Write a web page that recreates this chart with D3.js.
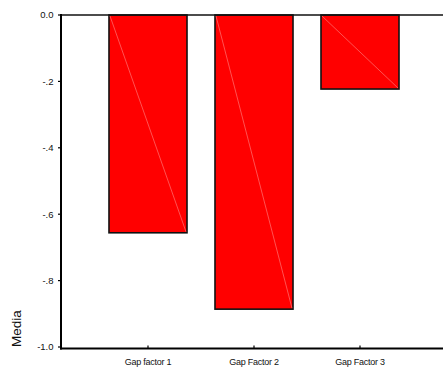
<!DOCTYPE html>
<html>
<head>
<meta charset="utf-8">
<script src="https://cdn.jsdelivr.net/npm/d3@7"></script>
<style>
  html, body { margin: 0; padding: 0; background: #fff; }
  svg { display: block; font-family: "Liberation Sans", Arial, sans-serif; }
</style>
</head>
<body>
<svg id="chart" width="443" height="367"></svg>
<script>
// Mean gap per factor
const categories = ["Gap factor 1", "Gap Factor 2", "Gap Factor 3"];
const means = [-0.656, -0.886, -0.223];
const yTicks = [0, -0.2, -0.4, -0.6, -0.8, -1.0];
const yTickLabels = ["0.0", "-.2", "-.4", "-.6", "-.8", "-1.0"];
const yTitle = "Media";

const svg = d3.select("#chart");
const axisX = 61, topY = 15, bottomY = 348.5, rightX = 443;

const y = d3.scaleLinear().domain([0, -1.0]).range([topY, 347]);
const x = d3.scaleBand()
  .domain(categories)
  .range([95, 413])
  .paddingInner(0.264)
  .paddingOuter(0.132);

// Bars
const bars = svg.append("g");
categories.forEach((c, i) => {
  const x0 = x(c), w = x.bandwidth();
  const y0 = y(0), y1 = y(means[i]);
  bars.append("rect")
    .attr("x", x0).attr("y", y0)
    .attr("width", w).attr("height", y1 - y0)
    .attr("fill", "#ff0000")
    .attr("stroke", "#111").attr("stroke-width", 1.6);
  bars.append("line")
    .attr("x1", x0 + 1).attr("y1", y0 + 1)
    .attr("x2", x0 + w - 1).attr("y2", y1 - 1)
    .attr("stroke", "#ff8a8a").attr("stroke-width", 0.6);
});

// Zero line across the top
svg.append("line")
  .attr("x1", axisX).attr("x2", rightX)
  .attr("y1", y(0)).attr("y2", y(0))
  .attr("stroke", "#111").attr("stroke-width", 1.5);

// Y axis
svg.append("line")
  .attr("x1", axisX).attr("x2", axisX)
  .attr("y1", topY - 1).attr("y2", bottomY + 1)
  .attr("stroke", "#000").attr("stroke-width", 2);

const yg = svg.append("g");
yTicks.forEach((t, i) => {
  yg.append("line")
    .attr("x1", axisX - 3).attr("x2", axisX)
    .attr("y1", y(t)).attr("y2", y(t))
    .attr("stroke", "#000").attr("stroke-width", 1.2);
  yg.append("text")
    .attr("x", 53.5).attr("y", y(t))
    .attr("dy", "0.35em")
    .attr("text-anchor", "end")
    .attr("font-size", 9.5)
    .attr("fill", "#111")
    .text(yTickLabels[i]);
});

// X axis
svg.append("line")
  .attr("x1", axisX - 1).attr("x2", rightX)
  .attr("y1", bottomY).attr("y2", bottomY)
  .attr("stroke", "#000").attr("stroke-width", 2);

const xg = svg.append("g");
categories.forEach(c => {
  const cx = x(c) + x.bandwidth() / 2;
  xg.append("line")
    .attr("x1", cx).attr("x2", cx)
    .attr("y1", bottomY - 3).attr("y2", bottomY)
    .attr("stroke", "#000").attr("stroke-width", 1.2);
  xg.append("text")
    .attr("x", cx).attr("y", 365)
    .attr("text-anchor", "middle")
    .attr("font-size", 9)
    .attr("letter-spacing", "-0.25")
    .attr("fill", "#111")
    .text(c);
});

// Y title
svg.append("text")
  .attr("transform", "translate(21,347) rotate(-90)")
  .attr("text-anchor", "start")
  .attr("font-size", 13.5)
  .attr("fill", "#111")
  .text(yTitle);
</script>
</body>
</html>
